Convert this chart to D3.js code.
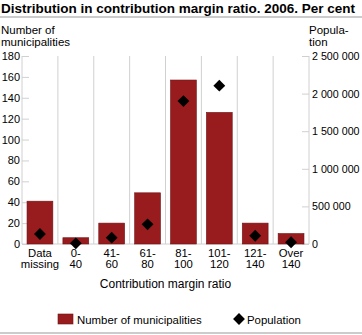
<!DOCTYPE html>
<html>
<head>
<meta charset="utf-8">
<script src="https://cdn.jsdelivr.net/npm/d3@7"></script>
<style>
  body { margin: 0; background: #fff; }
  svg { font-family: "Liberation Sans", Arial, sans-serif; }
</style>
</head>
<body>
<svg id="chart" width="362" height="335"></svg>
<script>
// data
const categories = [["Data", "missing"], ["0-", "40"], ["41-", "60"], ["61-", "80"], ["81-", "100"], ["101-", "120"], ["121-", "140"], ["Over", "140"]];
const municipalities = [41, 6, 20, 49, 157, 126, 20, 10];
const population = [133000, 9000, 84000, 262000, 1900000, 2105000, 110000, 23000];
const leftTicks = [0, 20, 40, 60, 80, 100, 120, 140, 160, 180];
const rightTicks = [0, 500000, 1000000, 1500000, 2000000, 2500000];

const svg = d3.select("#chart");
const margin = {left: 22, right: 53, top: 56, bottom: 91};
const width = 362, height = 335;
const grid = "#d0d0d0";
const fmt = v => d3.format(",")(v).replace(/,/g, " ");

const x = d3.scaleBand()
  .domain(d3.range(categories.length))
  .range([margin.left, width - margin.right])
  .paddingInner(0.28).paddingOuter(0.14);

const yL = d3.scaleLinear().domain([0, 180]).range([height - margin.bottom, margin.top]);
const yR = d3.scaleLinear().domain([0, 2500000]).range([height - margin.bottom, margin.top]);

// title
svg.append("text")
  .attr("x", 1).attr("y", 13)
  .attr("font-size", 13.5).attr("font-weight", "bold")
  .text("Distribution in contribution margin ratio. 2006. Per cent");
svg.append("line")
  .attr("x1", 0).attr("x2", width).attr("y1", 17).attr("y2", 17)
  .attr("stroke", "#bbb").attr("stroke-width", 1.5);

// axis titles
svg.append("text").attr("x", 1).attr("y", 34).attr("font-size", 11.5).text("Number of");
svg.append("text").attr("x", 1).attr("y", 46).attr("font-size", 11.5).text("municipalities");
svg.append("text").attr("x", 309).attr("y", 34).attr("font-size", 11.5).text("Popula-");
svg.append("text").attr("x", 309).attr("y", 46).attr("font-size", 11.5).text("tion");

// vertical grid at category boundaries
const bounds = d3.range(1, categories.length).map(i => margin.left + i * (width - margin.left - margin.right) / categories.length);
svg.append("g").selectAll("line").data(bounds).join("line")
  .attr("x1", d => d).attr("x2", d => d)
  .attr("y1", margin.top).attr("y2", height - margin.bottom)
  .attr("stroke", grid);

// left axis
const axL = svg.append("g").attr("transform", `translate(${margin.left},0)`)
  .call(d3.axisLeft(yL).tickValues(leftTicks).tickSize(-7).tickPadding(3));
axL.select(".domain").attr("stroke", grid).attr("d", `M0,${margin.top}V${height - margin.bottom}`);
axL.selectAll(".tick line").attr("stroke", grid);
axL.selectAll(".tick text").attr("font-size", 11).attr("fill", "#000")
  .attr("font-family", "Liberation Sans, Arial, sans-serif").attr("x", -2);

// right axis
const axR = svg.append("g").attr("transform", `translate(${width - margin.right},0)`)
  .call(d3.axisRight(yR).tickValues(rightTicks).tickFormat(fmt).tickSize(-7).tickPadding(3));
axR.select(".domain").attr("stroke", grid).attr("d", `M0,${margin.top}V${height - margin.bottom}`);
axR.selectAll(".tick line").attr("stroke", grid);
axR.selectAll(".tick text").attr("font-size", 10.7).attr("fill", "#000")
  .attr("font-family", "Liberation Sans, Arial, sans-serif").attr("x", 3);

// bottom baseline
svg.append("line")
  .attr("x1", margin.left).attr("x2", width - margin.right)
  .attr("y1", yL(0)).attr("y2", yL(0)).attr("stroke", grid);

// bars
svg.append("g").selectAll("rect").data(municipalities).join("rect")
  .attr("x", (d, i) => x(i)).attr("width", x.bandwidth())
  .attr("y", d => yL(d)).attr("height", d => yL(0) - yL(d))
  .attr("fill", "#981b1e").attr("stroke", "#6e1416").attr("stroke-width", 0.6);

// diamonds
const diamond = d3.symbol().type(d3.symbolSquare).size(70);
svg.append("g").selectAll("path").data(population).join("path")
  .attr("d", diamond)
  .attr("transform", (d, i) => `translate(${x(i) + x.bandwidth() / 2},${yR(d)}) rotate(45)`)
  .attr("fill", "#000");

// category labels
const cat = svg.append("g").selectAll("text").data(categories).join("text")
  .attr("text-anchor", "middle").attr("font-size", 11.3)
  .attr("x", (d, i) => x(i) + x.bandwidth() / 2);
cat.append("tspan").attr("y", 257).attr("x", (d, i) => x(i) + x.bandwidth() / 2).text(d => d[0]);
cat.append("tspan").attr("y", 268).attr("x", (d, i) => x(i) + x.bandwidth() / 2).text(d => d[1]);

svg.append("text").attr("x", (margin.left + width - margin.right) / 2).attr("y", 288)
  .attr("text-anchor", "middle").attr("font-size", 12).text("Contribution margin ratio");

// legend
svg.append("rect").attr("x", 58).attr("y", 314).attr("width", 15).attr("height", 10)
  .attr("fill", "#981b1e").attr("stroke", "#6e1416").attr("stroke-width", 0.6);
svg.append("text").attr("x", 77).attr("y", 324).attr("font-size", 11.4).text("Number of municipalities");
svg.append("path").attr("d", diamond)
  .attr("transform", "translate(239,319) rotate(45)").attr("fill", "#000");
svg.append("text").attr("x", 247).attr("y", 324).attr("font-size", 11.4).text("Population");

svg.append("line").attr("x1", 0).attr("x2", width).attr("y1", 333).attr("y2", 333)
  .attr("stroke", "#bbb").attr("stroke-width", 1.5);
</script>
</body>
</html>
